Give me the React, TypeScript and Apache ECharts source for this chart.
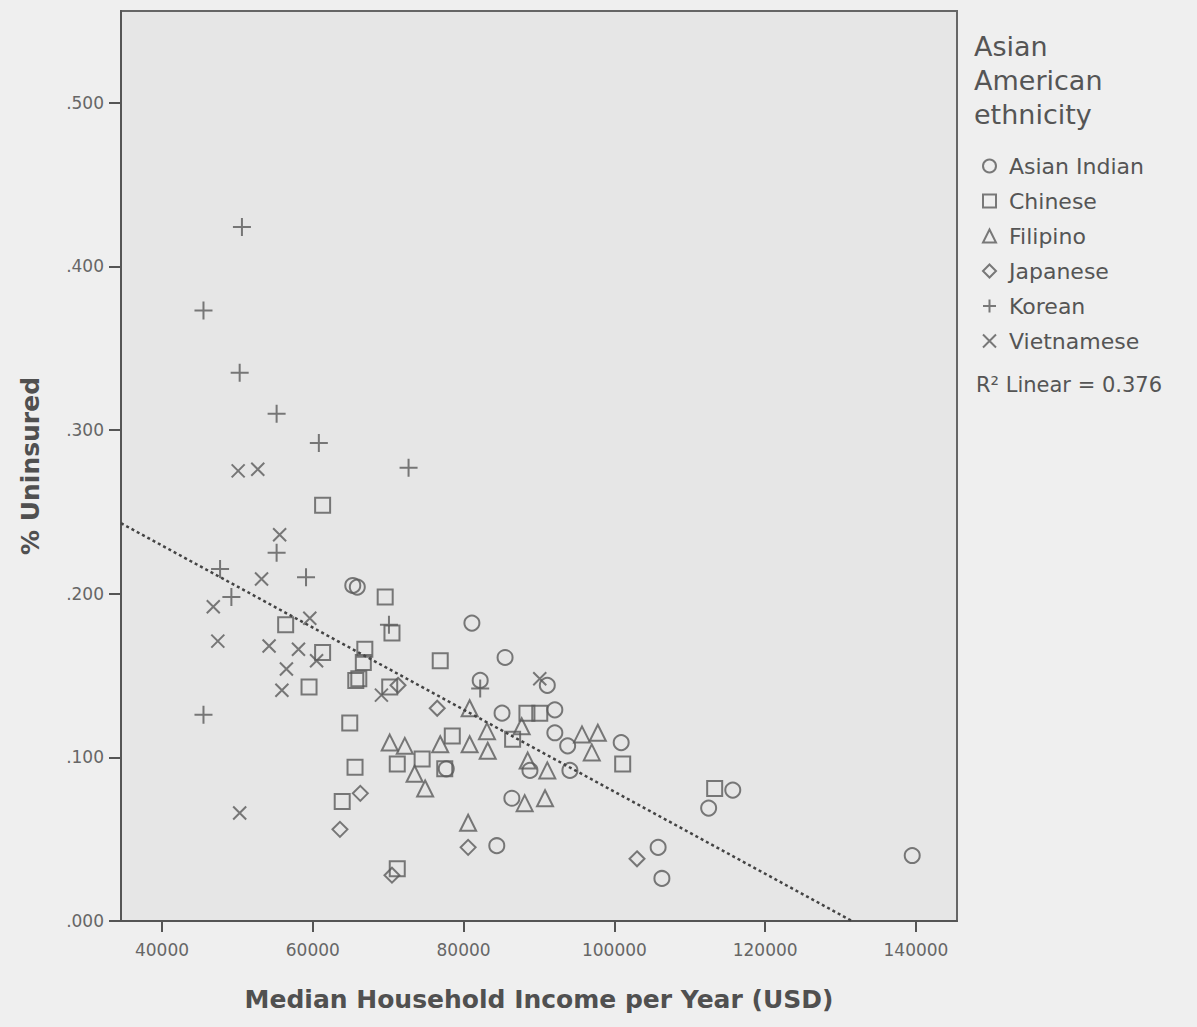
import React, { useEffect, useRef } from "react";
import * as echarts from "echarts";

// ---- Data ----
const X_TICKS = [40000, 60000, 80000, 100000, 120000, 140000];
const Y_TICKS = [0, 0.1, 0.2, 0.3, 0.4, 0.5];

const SERIES_NAMES = ["Asian Indian", "Chinese", "Filipino", "Japanese", "Korean", "Vietnamese"];

const asianIndian: [number, number][] = [
  [65300, 0.205], [65900, 0.204], [81100, 0.182], [82200, 0.147], [85500, 0.161],
  [91100, 0.144], [85100, 0.127], [92100, 0.129], [92100, 0.115], [93800, 0.107],
  [100900, 0.109], [88800, 0.092], [94100, 0.092], [77700, 0.093], [86400, 0.075],
  [84400, 0.046], [105800, 0.045], [106300, 0.026], [112500, 0.069], [115700, 0.080],
  [139500, 0.040],
];
const chinese: [number, number][] = [
  [61300, 0.254], [69600, 0.198], [56400, 0.181], [70500, 0.176], [61300, 0.164],
  [66900, 0.166], [66700, 0.158], [76900, 0.159], [66100, 0.148], [65700, 0.147],
  [59500, 0.143], [64900, 0.121], [70200, 0.143], [78500, 0.113], [86500, 0.111],
  [88400, 0.127], [90100, 0.127], [71200, 0.096], [74500, 0.099], [65600, 0.094],
  [77500, 0.093], [63900, 0.073], [71200, 0.032], [101100, 0.096], [113300, 0.081],
];
const filipino: [number, number][] = [
  [70200, 0.109], [72200, 0.107], [76900, 0.108], [80800, 0.108], [80800, 0.130],
  [83100, 0.116], [83200, 0.104], [87700, 0.119], [95700, 0.114], [97800, 0.115],
  [97000, 0.103], [73500, 0.090], [74900, 0.081], [88500, 0.098], [91100, 0.092],
  [88100, 0.072], [90800, 0.075], [80600, 0.060],
];
const japanese: [number, number][] = [
  [76500, 0.130], [66300, 0.078], [63600, 0.056], [80600, 0.045], [70500, 0.028],
  [103000, 0.038], [71300, 0.144],
];
const korean: [number, number][] = [
  [50600, 0.424], [45500, 0.373], [50300, 0.335], [55200, 0.310], [60800, 0.292],
  [72700, 0.277], [55200, 0.225], [47700, 0.215], [49200, 0.198], [59100, 0.210],
  [45500, 0.126], [70100, 0.181], [82200, 0.142],
];
const vietnamese: [number, number][] = [
  [50100, 0.275], [52700, 0.276], [55600, 0.236], [53200, 0.209], [46800, 0.192],
  [59600, 0.185], [47400, 0.171], [54200, 0.168], [58100, 0.166], [56500, 0.154],
  [60500, 0.159], [55900, 0.141], [69100, 0.138], [90100, 0.148], [50300, 0.066],
];

// Linear fit shown in the reference (R² = 0.376)
const FIT_INTERCEPT = 0.3297;
const FIT_SLOPE = -2.507e-6;
const R2_LABEL = "R\u00B2 Linear = 0.376";
const LEGEND_TITLE = ["Asian", "American", "ethnicity"];

const X_MIN = 34560;
const X_MAX = 145440;
const Y_MIN = 0;
const Y_MAX = 0.556;

// ---- Styling ----
const INK = "#5a5a5a";
const FONT = "DejaVu Sans";

const SYMBOLS: Record<string, { symbol: string; size: number }> = {
  "Asian Indian": { symbol: "circle", size: 15 },
  Chinese: { symbol: "rect", size: 15 },
  Filipino: { symbol: "triangle", size: 16 },
  Japanese: { symbol: "path://M5,0L10,5L5,10L0,5Z", size: 15 },
  Korean: { symbol: "path://M5,0L5,10M0,5L10,5", size: 18 },
  Vietnamese: { symbol: "path://M0,0L10,10M10,0L0,10", size: 13 },
};

const SERIES_DATA: Record<string, [number, number][]> = {
  "Asian Indian": asianIndian,
  Chinese: chinese,
  Filipino: filipino,
  Japanese: japanese,
  Korean: korean,
  Vietnamese: vietnamese,
};

export default function App() {
  const ref = useRef<HTMLDivElement>(null);

  useEffect(() => {
    if (!ref.current) return;
    const chart = echarts.init(ref.current, null, { renderer: "svg" });

    const xZero = -FIT_INTERCEPT / FIT_SLOPE;
    const fitLine: [number, number][] = [
      [X_MIN, FIT_INTERCEPT + FIT_SLOPE * X_MIN],
      [xZero, FIT_INTERCEPT + FIT_SLOPE * xZero],
    ];

    const scatterSeries = SERIES_NAMES.map((name) => ({
      name,
      type: "scatter",
      data: SERIES_DATA[name],
      symbol: SYMBOLS[name].symbol,
      symbolSize: SYMBOLS[name].size,
      itemStyle: { color: "transparent", borderColor: INK, borderWidth: 2 },
      emphasis: { disabled: true },
      z: 3,
    }));

    const option: any = {
      animation: false,
      backgroundColor: "#efefef",
      textStyle: { fontFamily: FONT },
      grid: {
        left: 121,
        top: 11,
        width: 836,
        height: 910,
        show: true,
        backgroundColor: "#e6e6e6",
        borderColor: "#666",
        borderWidth: 2,
      },
      xAxis: {
        type: "value",
        min: X_MIN,
        max: X_MAX,
        name: "Median Household Income per Year (USD)",
        nameLocation: "middle",
        nameGap: 66,
        nameTextStyle: { fontFamily: FONT, fontWeight: "bold", fontSize: 25, color: "#505050" },
        axisLine: { show: true, onZero: false, lineStyle: { color: "#555", width: 2 } },
        axisTick: { show: true, length: 11, customValues: X_TICKS, lineStyle: { color: "#555", width: 2 } },
        axisLabel: {
          customValues: X_TICKS,
          margin: 20,
          fontFamily: FONT,
          fontSize: 17,
          color: "#666",
          formatter: (v: number) => String(v),
        },
        splitLine: { show: false },
      },
      yAxis: {
        type: "value",
        min: Y_MIN,
        max: Y_MAX,
        name: "% Uninsured",
        nameLocation: "middle",
        nameGap: 78,
        nameTextStyle: { fontFamily: FONT, fontWeight: "bold", fontSize: 25, color: "#505050" },
        axisLine: { show: true, onZero: false, lineStyle: { color: "#555", width: 2 } },
        axisTick: { show: true, length: 12, customValues: Y_TICKS, lineStyle: { color: "#555", width: 2 } },
        axisLabel: {
          customValues: Y_TICKS,
          margin: 17,
          fontFamily: FONT,
          fontSize: 17,
          color: "#666",
          formatter: (v: number) => v.toFixed(3).slice(1),
        },
        splitLine: { show: false },
      },
      legend: {
        data: SERIES_NAMES,
        orient: "vertical",
        left: 977,
        top: 150,
        itemWidth: 13,
        itemHeight: 13,
        itemGap: 13,
        selectedMode: false,
        textStyle: { fontFamily: FONT, fontSize: 22, lineHeight: 22, color: "#555", padding: [0, 0, 0, 8] },
      },
      graphic: [
        ...LEGEND_TITLE.map((t, i) => ({
          type: "text",
          left: 974,
          top: 33 + i * 34,
          style: { text: t, fontFamily: FONT, fontSize: 27, fill: "#555" },
        })),
        {
          type: "text",
          left: 976,
          top: 374,
          style: { text: R2_LABEL, fontFamily: FONT, fontSize: 21, fill: "#555" },
        },
      ],
      series: [
        ...scatterSeries,
        {
          name: "fit",
          type: "line",
          data: fitLine,
          symbol: "none",
          silent: true,
          lineStyle: { color: "#444", width: 2.5, type: [3, 3] },
          z: 4,
        },
      ],
    };

    chart.setOption(option);
    return () => chart.dispose();
  }, []);

  return (
    <div
      ref={ref}
      style={{ position: "absolute", left: 0, top: 0, width: 1197, height: 1027, background: "#efefef" }}
    />
  );
}
